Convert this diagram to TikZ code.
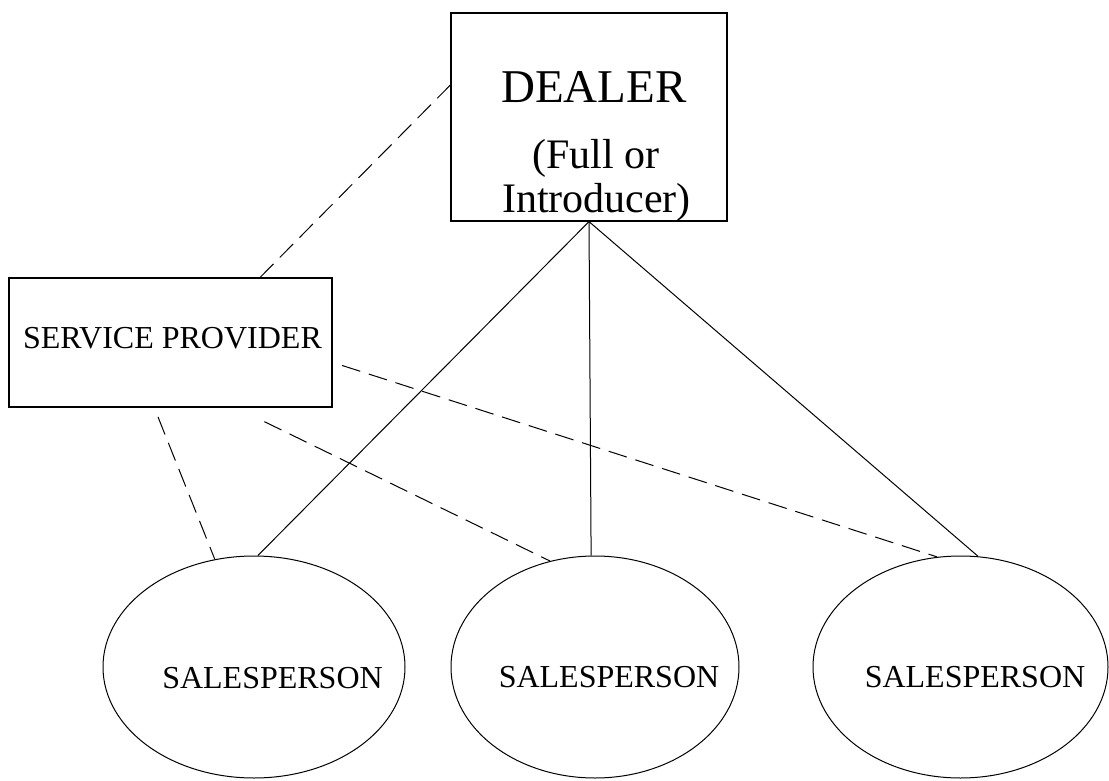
\documentclass[tikz,border=0pt]{standalone}
\usepackage{fontspec}
\setmainfont{Liberation Serif}
\usetikzlibrary{shapes.geometric}

\begin{document}
\begin{tikzpicture}[x=1pt,y=-1pt,
		box/.style={draw,line width=1.2pt,inner sep=0pt},
		person/.style={draw,ellipse,line width=1pt,inner sep=0pt,minimum height=222pt},
		link/.style={line width=1pt},
		dashlink/.style={line width=1pt,dash pattern=on 19pt off 9pt},
		big/.style={anchor=base,font=\fontsize{47}{50}\selectfont},
		mid/.style={anchor=base,font=\fontsize{42}{44}\selectfont},
		small/.style={anchor=base,font=\fontsize{32}{34}\selectfont}]
		\useasboundingbox (0,0) rectangle (1109,781);
		% boxes
		\node[box,minimum width=276pt,minimum height=208pt] (dealer) at (589,117) {};
		\node[box,minimum width=323pt,minimum height=129pt] (sp) at (170.5,342.5) {};
		\node[big] (dealername) at (594,103) {DEALER};
		\node[mid] (dealerfull) at (596,168) {(Full or};
		\node[mid] (dealerintro) at (596.5,212) {Introducer)};
		\node[small] (spname) at (172.5,348) {SERVICE PROVIDER};
		% salespersons
		\node[person,minimum width=302pt] (sp1) at (254,667) {};
		\node[person,minimum width=288pt] (sp2) at (595,667) {};
		\node[person,minimum width=295pt] (sp3) at (960.5,667) {};
		\node[small] (name1) at (272.5,688) {SALESPERSON};
		\node[small] (name2) at (609,687) {SALESPERSON};
		\node[small] (name3) at (975,687) {SALESPERSON};
		% links
		\draw[link] (dealer.south) -- (sp1.88);
		\draw[link] (dealer.south) -- (sp2.92.6);
		\draw[link] (dealer.south) -- (sp3.81);
		\draw[dashlink] (sp.36.8) -- (dealer.167);
		\draw[dashlink,shorten <=10pt] (sp.256) -- (sp1.110);
		\draw[dashlink,shorten <=32pt] (sp.315.9) -- (sp2.113);
		\draw[dashlink,shorten <=10pt] (sp.-7.3) -- (sp3.102);
	\end{tikzpicture}
\end{document}
